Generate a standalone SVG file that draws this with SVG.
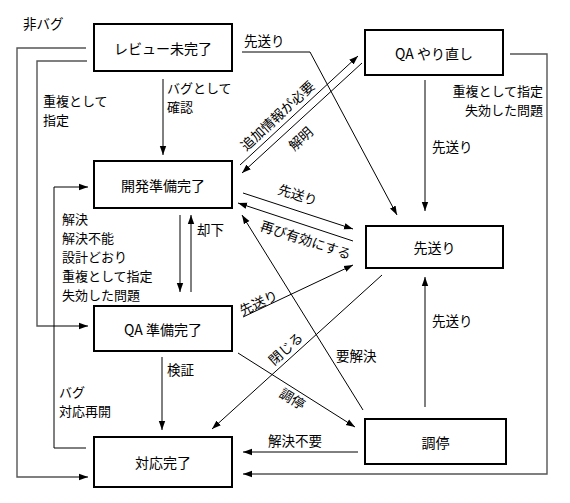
<svg xmlns="http://www.w3.org/2000/svg" width="570" height="503" viewBox="0 0 570 503">
<style>
.box{fill:#fff;stroke:#000;stroke-width:2}
.bt{font-family:"Noto Sans CJK JP","Liberation Sans",sans-serif;font-size:14px;text-anchor:middle;dominant-baseline:central;fill:#000}
.lb{font-family:"Noto Sans CJK JP","Liberation Sans",sans-serif;font-size:13.5px;dominant-baseline:central;fill:#000}
.ml{font-size:13px}
.c{fill:none;stroke:#000;stroke-width:1}
.o{fill:none;stroke:#555;stroke-width:1.4}
</style>
<defs>
<marker id="ah" markerUnits="userSpaceOnUse" markerWidth="10" markerHeight="8" refX="9" refY="4" orient="auto">
<path d="M0,0.8 L9,4 L0,7.2 Z" fill="#000"/>
</marker>
</defs>
<rect width="570" height="503" fill="#fff"/>
<g id="connectors">
<polyline class="o" points="86,48 17,48 17,477 88,477" marker-end="url(#ah)"/>
<polyline class="o" points="87,61 37,61 37,326 88,326" marker-end="url(#ah)"/>
<polyline class="c" points="86,448 54,448 54,187 88,187" marker-end="url(#ah)"/>
<line class="c" x1="163" y1="79" x2="163" y2="155" marker-end="url(#ah)"/>
<line class="c" x1="180" y1="215" x2="180" y2="292" marker-end="url(#ah)"/>
<line class="c" x1="191" y1="292" x2="191" y2="215" marker-end="url(#ah)"/>
<line class="c" x1="162" y1="357" x2="162" y2="430" marker-end="url(#ah)"/>
<polyline class="c" points="242,52 310,52 397,215" marker-end="url(#ah)"/>
<line class="c" x1="240" y1="165" x2="358" y2="56" marker-end="url(#ah)"/>
<line class="c" x1="362" y1="63" x2="242" y2="173" marker-end="url(#ah)"/>
<line class="c" x1="425" y1="80" x2="425" y2="211" marker-end="url(#ah)"/>
<polyline class="o" points="510,54 547,54 547,474 243,474" marker-end="url(#ah)"/>
<line class="c" x1="243" y1="193" x2="353" y2="229" marker-end="url(#ah)"/>
<line class="c" x1="353" y1="241" x2="238" y2="203" marker-end="url(#ah)"/>
<line class="c" x1="243" y1="317" x2="353" y2="265" marker-end="url(#ah)"/>
<line class="c" x1="382" y1="275" x2="212" y2="429" marker-end="url(#ah)"/>
<line class="c" x1="363" y1="410" x2="242" y2="215" marker-end="url(#ah)"/>
<line class="c" x1="238" y1="353" x2="355" y2="427" marker-end="url(#ah)"/>
<line class="c" x1="358" y1="452" x2="243" y2="452" marker-end="url(#ah)"/>
<line class="c" x1="425" y1="407" x2="425" y2="277" marker-end="url(#ah)"/>
</g>
<g id="labels">
<text class="lb" x="23" y="23">非バグ</text>
<text class="lb ml" x="43" y="100">重複として</text>
<text class="lb ml" x="43" y="119">指定</text>
<text class="lb ml" x="167" y="87">バグとして</text>
<text class="lb ml" x="167" y="106">確認</text>
<text class="lb ml" x="62" y="218">解決</text>
<text class="lb ml" x="62" y="237">解決不能</text>
<text class="lb ml" x="62" y="256">設計どおり</text>
<text class="lb ml" x="62" y="275">重複として指定</text>
<text class="lb ml" x="62" y="294">失効した問題</text>
<text class="lb" x="197" y="229">却下</text>
<text class="lb" x="167" y="369">検証</text>
<text class="lb ml" x="59" y="391">バグ</text>
<text class="lb ml" x="59" y="410">対応再開</text>
<text class="lb" x="244" y="40">先送り</text>
<text class="lb ml" x="543" y="90" text-anchor="end">重複として指定</text>
<text class="lb ml" x="543" y="109" text-anchor="end">失効した問題</text>
<text class="lb" x="432" y="146">先送り</text>
<text class="lb" x="432" y="320">先送り</text>
<text class="lb" x="336" y="355">要解決</text>
<text class="lb" x="268" y="440">解決不要</text>
<text class="lb" text-anchor="middle" transform="translate(277,115) rotate(-42.7)">追加情報が必要</text>
<text class="lb" text-anchor="middle" transform="translate(300,138) rotate(-42.7)">解明</text>
<text class="lb" text-anchor="middle" transform="translate(298,194) rotate(18)">先送り</text>
<text class="lb" text-anchor="middle" transform="translate(306,239) rotate(18)">再び有効にする</text>
<text class="lb" text-anchor="middle" transform="translate(258,302) rotate(-25)">先送り</text>
<text class="lb" text-anchor="middle" transform="translate(285,348) rotate(-42)">閉じる</text>
<text class="lb" text-anchor="middle" transform="translate(293,398) rotate(32)">調停</text>
</g>
<g id="n-review"><rect class="box" x="94" y="24" width="138" height="47"/><text class="bt" x="163" y="47.5">レビュー未完了</text></g>
<g id="n-qa-redo"><rect class="box" x="365" y="30" width="138" height="45"/><text class="bt" x="434" y="52.5">QA やり直し</text></g>
<g id="n-dev-ready"><rect class="box" x="94" y="161" width="138" height="47"/><text class="bt" x="163" y="184.5">開発準備完了</text></g>
<g id="n-postpone"><rect class="box" x="366" y="226" width="137" height="42"/><text class="bt" x="434.5" y="247">先送り</text></g>
<g id="n-qa-ready"><rect class="box" x="94" y="306" width="138" height="45"/><text class="bt" x="163" y="328.5">QA 準備完了</text></g>
<g id="n-done"><rect class="box" x="94" y="437" width="138" height="50"/><text class="bt" x="163" y="462">対応完了</text></g>
<g id="n-mediate"><rect class="box" x="365" y="419" width="141" height="45"/><text class="bt" x="435.5" y="441.5">調停</text></g>
</svg>
